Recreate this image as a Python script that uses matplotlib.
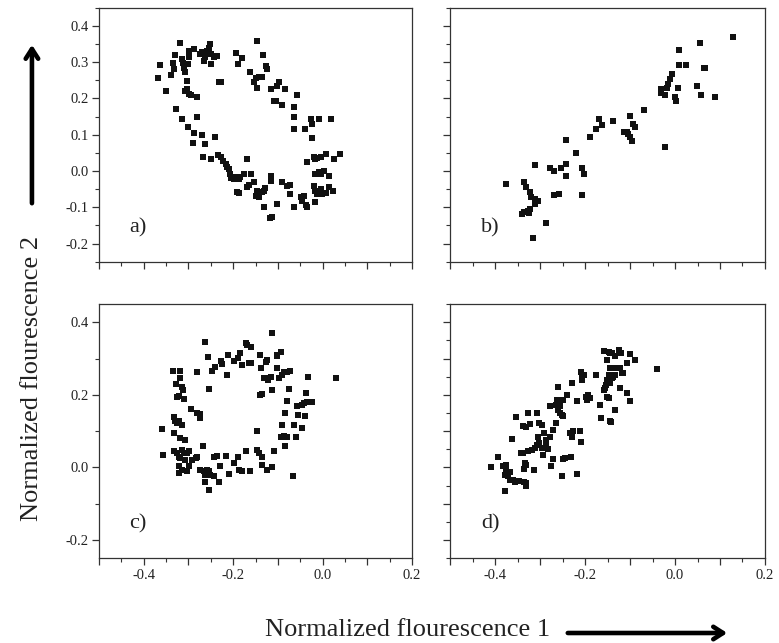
import numpy as np
import matplotlib
matplotlib.use("Agg")
import matplotlib.pyplot as plt
from matplotlib.patches import FancyArrowPatch
from matplotlib.ticker import MultipleLocator


# panel a) - two arcs
a_x = [-0.368, -0.364, -0.351, -0.340, -0.333, -0.331, -0.335, -0.318, -0.314, -0.312,
       -0.310, -0.307, -0.304, -0.303, -0.307, -0.299, -0.294, -0.281, -0.301, -0.299,
       -0.298, -0.288, -0.327, -0.314, -0.301, -0.288, -0.290, -0.281, -0.270, -0.263,
       -0.267, -0.249, -0.240, -0.234, -0.228, -0.222, -0.217, -0.213, -0.210, -0.207,
       -0.204, -0.199, -0.195, -0.187, -0.184, -0.176, -0.169, -0.170, -0.161, -0.165,
       -0.191, -0.187, -0.154, -0.146, -0.143, -0.135, -0.130, -0.128, -0.148, -0.116,
       -0.116, -0.118, -0.113, -0.103, -0.131, -0.090, -0.079, -0.072, -0.073, -0.064,
       -0.049, -0.047, -0.042, -0.038, -0.036, -0.034, -0.019, -0.016, -0.012, -0.004,
       0.007, 0.025, 0.039, -0.016, -0.008, -0.003, 0.003, 0.014, -0.019, -0.016,
       -0.012, -0.008, -0.004, -0.001, 0.007, 0.014, 0.024, -0.016, -0.273, -0.269,
       -0.266, -0.262, -0.258, -0.254, -0.251, -0.249, -0.243, -0.236, -0.249, -0.228,
       -0.232, -0.193, -0.189, -0.181, -0.163, -0.154, -0.150, -0.146, -0.143, -0.135,
       -0.146, -0.133, -0.126, -0.124, -0.115, -0.109, -0.105, -0.101, -0.097, -0.090,
       -0.085, -0.064, -0.064, -0.064, -0.057, -0.040, -0.027, -0.023, -0.023, -0.008,
       0.018]
a_y = [0.255, 0.292, 0.221, 0.265, 0.281, 0.320, 0.299, 0.352, 0.308, 0.299,
       0.285, 0.272, 0.249, 0.226, 0.221, 0.212, 0.209, 0.205, 0.294, 0.313,
       0.331, 0.336, 0.171, 0.143, 0.122, 0.106, 0.077, 0.148, 0.099, 0.074,
       0.038, 0.033, 0.094, 0.045, 0.038, 0.028, 0.019, 0.010, 0.006, -0.008,
       -0.020, -0.022, -0.017, -0.022, -0.017, -0.008, 0.033, -0.045, -0.008, -0.039,
       -0.059, -0.061, -0.031, -0.054, -0.072, -0.059, -0.054, -0.048, -0.068, -0.013,
       -0.027, -0.129, -0.126, -0.091, -0.100, -0.031, -0.040, -0.063, -0.039, -0.100,
       -0.072, -0.082, -0.068, -0.095, -0.100, 0.024, 0.038, 0.033, 0.036, 0.038,
       0.047, 0.033, 0.047, -0.008, -0.004, -0.008, 0.001, -0.013, -0.040, -0.054,
       -0.063, -0.059, -0.050, -0.063, -0.061, -0.045, -0.054, -0.086, 0.322, 0.327,
       0.304, 0.313, 0.331, 0.340, 0.350, 0.322, 0.313, 0.317, 0.294, 0.244,
       0.244, 0.324, 0.296, 0.311, 0.272, 0.244, 0.256, 0.228, 0.258, 0.258,
       0.359, 0.320, 0.288, 0.281, 0.226, 0.194, 0.194, 0.235, 0.244, 0.182,
       0.226, 0.177, 0.150, 0.116, 0.209, 0.116, 0.143, 0.129, 0.091, 0.143,
       0.143]

# panel b) - linear band
b_x = [-0.375, -0.337, -0.332, -0.323, -0.320, -0.312, -0.308, -0.305, -0.312, -0.340,
       -0.335, -0.327, -0.323, -0.325, -0.316, -0.312, -0.288, -0.279, -0.269, -0.253,
       -0.242, -0.242, -0.242, -0.269, -0.258, -0.221, -0.208, -0.203, -0.206, -0.189,
       -0.175, -0.169, -0.163, -0.139, -0.114, -0.108, -0.104, -0.100, -0.095, -0.093,
       -0.090, -0.100, -0.068, -0.032, -0.032, -0.022, -0.018, -0.016, -0.012, -0.007,
       -0.022, 0.000, 0.002, 0.006, 0.008, 0.008, 0.025, 0.049, 0.055, 0.058,
       0.065, 0.067, 0.088, 0.128]
b_y = [-0.036, -0.031, -0.045, -0.059, -0.072, -0.077, -0.082, -0.082, -0.091, -0.118,
       -0.114, -0.109, -0.105, -0.116, -0.185, 0.017, -0.144, 0.007, -0.001, 0.007,
       0.019, -0.013, 0.085, -0.066, -0.063, 0.049, 0.007, -0.008, -0.066, 0.094,
       0.117, 0.143, 0.128, 0.139, 0.108, 0.108, 0.102, 0.093, 0.083, 0.129,
       0.120, 0.152, 0.168, 0.226, 0.215, 0.209, 0.230, 0.241, 0.253, 0.267,
       0.065, 0.203, 0.194, 0.230, 0.292, 0.333, 0.292, 0.235, 0.352, 0.209,
       0.285, 0.285, 0.205, 0.370]

# panel c) - ring
c_x = [-0.360, -0.357, -0.334, -0.328, -0.318, -0.318, -0.314, -0.312, -0.320, -0.310,
       -0.325, -0.333, -0.329, -0.325, -0.320, -0.314, -0.333, -0.318, -0.307, -0.333,
       -0.325, -0.320, -0.314, -0.310, -0.303, -0.299, -0.318, -0.307, -0.320, -0.314,
       -0.303, -0.322, -0.299, -0.294, -0.281, -0.273, -0.275, -0.292, -0.284, -0.281,
       -0.281, -0.264, -0.257, -0.253, -0.247, -0.240, -0.228, -0.225, -0.212, -0.213,
       -0.273, -0.266, -0.262, -0.258, -0.254, -0.251, -0.243, -0.232, -0.262, -0.253,
       -0.267, -0.243, -0.237, -0.230, -0.215, -0.210, -0.199, -0.189, -0.187, -0.181,
       -0.172, -0.163, -0.199, -0.190, -0.184, -0.180, -0.165, -0.172, -0.169, -0.161,
       -0.161, -0.139, -0.137, -0.126, -0.124, -0.146, -0.139, -0.135, -0.146, -0.143,
       -0.135, -0.135, -0.124, -0.113, -0.109, -0.131, -0.126, -0.122, -0.116, -0.113,
       -0.113, -0.103, -0.101, -0.094, -0.103, -0.098, -0.090, -0.087, -0.079, -0.072,
       -0.083, -0.079, -0.090, -0.094, -0.087, -0.079, -0.083, -0.075, -0.066, -0.064,
       -0.060, -0.057, -0.054, -0.046, -0.042, -0.038, -0.034, -0.023, -0.046, -0.040,
       -0.033, 0.031]
c_y = [0.106, 0.033, 0.266, 0.229, 0.246, 0.266, 0.223, 0.214, 0.197, 0.188,
       0.194, 0.140, 0.127, 0.122, 0.127, 0.117, 0.096, 0.081, 0.076, 0.044,
       0.039, 0.030, 0.049, 0.041, 0.039, 0.044, 0.026, 0.021, 0.003, -0.006,
       -0.011, -0.016, 0.003, 0.161, 0.151, 0.148, 0.136, 0.021, 0.026, 0.030,
       0.264, 0.345, 0.303, 0.217, 0.266, 0.278, 0.292, 0.285, 0.310, 0.255,
       -0.006, -0.011, -0.020, -0.006, -0.011, -0.020, -0.025, -0.039, -0.039, -0.061,
       0.058, 0.030, 0.032, 0.003, 0.032, -0.017, 0.012, 0.028, -0.006, -0.011,
       0.044, -0.011, 0.294, 0.301, 0.315, 0.283, 0.287, 0.342, 0.338, 0.333,
       0.287, 0.310, 0.273, 0.290, 0.296, 0.099, 0.200, 0.203, 0.049, 0.039,
       0.030, 0.007, -0.006, 0.000, 0.044, 0.246, 0.246, 0.241, 0.249, 0.214,
       0.370, 0.306, 0.310, 0.319, 0.273, 0.246, 0.255, 0.264, 0.264, 0.267,
       0.151, 0.184, 0.117, 0.085, 0.087, 0.085, 0.058, 0.216, -0.025, 0.117,
       0.085, 0.168, 0.145, 0.172, 0.177, 0.205, 0.179, 0.181, 0.108, 0.143,
       0.249, 0.246]

# panel d) - broad diagonal cloud
d_x = [-0.409, -0.393, -0.383, -0.375, -0.377, -0.374, -0.379, -0.372, -0.368, -0.368,
       -0.360, -0.378, -0.353, -0.362, -0.357, -0.346, -0.337, -0.332, -0.332, -0.343,
       -0.338, -0.334, -0.332, -0.337, -0.327, -0.338, -0.332, -0.327, -0.322, -0.308,
       -0.302, -0.295, -0.319, -0.312, -0.308, -0.302, -0.297, -0.293, -0.286, -0.282,
       -0.313, -0.304, -0.292, -0.287, -0.271, -0.278, -0.276, -0.272, -0.265, -0.250,
       -0.252, -0.245, -0.232, -0.219, -0.278, -0.263, -0.257, -0.249, -0.241, -0.265,
       -0.260, -0.256, -0.252, -0.250, -0.257, -0.261, -0.230, -0.219, -0.234, -0.230,
       -0.226, -0.211, -0.209, -0.209, -0.207, -0.207, -0.202, -0.198, -0.193, -0.189,
       -0.196, -0.175, -0.168, -0.164, -0.159, -0.155, -0.153, -0.151, -0.148, -0.144,
       -0.140, -0.151, -0.146, -0.144, -0.142, -0.133, -0.144, -0.137, -0.129, -0.122,
       -0.119, -0.116, -0.137, -0.133, -0.151, -0.148, -0.157, -0.144, -0.140, -0.122,
       -0.107, -0.101, -0.133, -0.124, -0.120, -0.107, -0.101, -0.088, -0.041]
d_y = [0.000, 0.028, 0.003, 0.007, -0.006, -0.016, -0.020, -0.025, -0.034, -0.014,
       -0.034, -0.066, 0.140, 0.078, -0.039, -0.037, -0.039, -0.052, -0.043, 0.039,
       0.039, 0.012, 0.007, -0.005, 0.044, 0.113, 0.111, 0.150, 0.120, 0.150,
       0.122, 0.117, 0.049, 0.053, 0.062, 0.067, 0.053, 0.035, 0.062, 0.050,
       -0.006, 0.085, 0.096, 0.076, 0.104, 0.085, 0.003, 0.023, 0.122, 0.023,
       -0.025, 0.026, 0.030, -0.018, 0.168, 0.186, 0.186, 0.186, 0.200, 0.172,
       0.159, 0.150, 0.145, 0.142, 0.168, 0.223, 0.232, 0.182, 0.094, 0.085,
       0.099, 0.099, 0.070, 0.264, 0.250, 0.241, 0.255, 0.195, 0.200, 0.191,
       0.186, 0.255, 0.172, 0.136, 0.214, 0.218, 0.228, 0.241, 0.255, 0.232,
       0.246, 0.194, 0.191, 0.127, 0.124, 0.159, 0.273, 0.273, 0.273, 0.273,
       0.260, 0.260, 0.249, 0.255, 0.296, 0.319, 0.322, 0.315, 0.315, 0.218,
       0.205, 0.182, 0.306, 0.324, 0.315, 0.289, 0.312, 0.296, 0.272]

panel_names = ["a)", "b)", "c)", "d)"]
xs = [a_x, b_x, c_x, d_x]
ys = [a_y, b_y, c_y, d_y]

x_ticks = [-0.5, -0.4, -0.3, -0.2, -0.1, 0.0, 0.1, 0.2]
x_labels = ["", "-0.4", "", "-0.2", "", "0.0", "", "0.2"]
y_ticks_fine = [-0.2, -0.1, 0.0, 0.1, 0.2, 0.3, 0.4]
y_ticks_coarse = [-0.2, 0.0, 0.2, 0.4]

plt.rcParams["font.family"] = ["Liberation Serif", "DejaVu Serif"]

fig = plt.figure(figsize=(7.79, 6.43), dpi=100)

# [left, bottom, width, height] in figure fractions
boxes = [
    [0.127, 0.593, 0.402, 0.395],
    [0.578, 0.593, 0.404, 0.395],
    [0.127, 0.132, 0.402, 0.395],
    [0.578, 0.132, 0.404, 0.395],
]

axis_col = "#333333"

for i in range(4):
    ax = fig.add_axes(boxes[i])
    ax.scatter(xs[i], ys[i], marker="s", s=21, color="#111111", linewidths=0)
    ax.set_xlim(-0.5, 0.2)
    ax.set_ylim(-0.25, 0.45)

    ax.set_xticks(x_ticks)
    ax.xaxis.set_minor_locator(MultipleLocator(0.05))
    if i >= 2:
        ax.set_xticklabels(x_labels)
    else:
        ax.set_xticklabels([])

    if i == 2:
        ax.set_yticks(y_ticks_coarse)
        ax.set_yticklabels(["%.1f" % v for v in y_ticks_coarse])
        ax.yaxis.set_minor_locator(MultipleLocator(0.1))
    else:
        ax.set_yticks(y_ticks_fine)
        ax.yaxis.set_minor_locator(MultipleLocator(0.05))
        if i == 0:
            ax.set_yticklabels(["%.1f" % v for v in y_ticks_fine])
        else:
            ax.set_yticklabels([])

    ax.tick_params(which="major", direction="out", length=5, width=0.9, color=axis_col,
                   labelsize=10.5, labelcolor="#222222", pad=2.5, top=False, right=False)
    ax.tick_params(which="minor", direction="out", length=3, width=0.8, color=axis_col,
                   top=False, right=False)
    for sp in ax.spines.values():
        sp.set_linewidth(0.9)
        sp.set_color(axis_col)

    ax.text(0.098, 0.135, panel_names[i], transform=ax.transAxes, fontsize=16,
            va="center", color="#222222")

# axis labels with arrows
fig.text(0.041, 0.412, "Normalized flourescence 2", rotation=90,
         ha="center", va="center", fontsize=19, color="#222222")
fig.text(0.523, 0.02, "Normalized flourescence 1", ha="center", va="center",
         fontsize=19, color="#222222")

fig.patches.append(FancyArrowPatch(
    (0.041, 1 - 206 / 643), (0.041, 1 - 42 / 643), transform=fig.transFigure,
    arrowstyle="->,head_length=7,head_width=4.5", lw=3.3, color="black",
    mutation_scale=1))
fig.patches.append(FancyArrowPatch(
    (565 / 779, 1 - 633 / 643), (730 / 779, 1 - 633 / 643), transform=fig.transFigure,
    arrowstyle="->,head_length=7,head_width=4.5", lw=3.3, color="black",
    mutation_scale=1))

plt.savefig("out.png", dpi=100)
